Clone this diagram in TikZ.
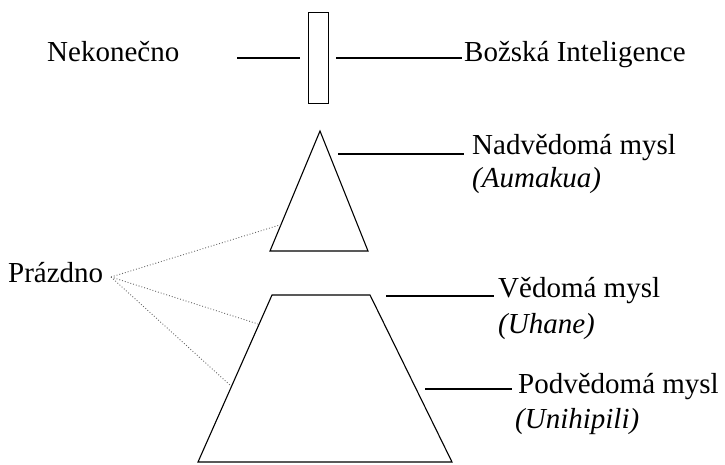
\documentclass[tikz,border=0pt]{standalone}
\usepackage{fontspec}
\setmainfont{Liberation Serif}
\usetikzlibrary{calc}
\begin{document}
\begin{tikzpicture}[x=1pt,y=-1pt,
  lbl/.style={anchor=base west, inner sep=0pt, font=\fontsize{29}{33}\selectfont},
  ital/.style={lbl, font=\fontsize{29}{33}\selectfont\itshape},
  ln/.style={line width=1.1pt, black},
  dots/.style={dotted, line width=0.9pt, black!60}]
\useasboundingbox (0,0) rectangle (725,465);
% bar
\node[draw, line width=1.2pt, minimum width=20pt, minimum height=91pt, inner sep=0pt, anchor=north west] (bar) at (308,12) {};
% triangle
\coordinate (ta) at (320,131);
\coordinate (tl) at (270,251);
\coordinate (tr) at (368,251);
\draw[ln] (ta) -- (tr) -- (tl) -- cycle;
% trapezoid
\coordinate (ptl) at (272,295);
\coordinate (ptr) at (370,295);
\coordinate (pbr) at (452,462);
\coordinate (pbl) at (198,462);
\draw[ln] (ptl) -- (ptr) -- (pbr) -- (pbl) -- cycle;
% labels
\node[lbl] (nek) at (47,62) {Nekonečno};
\node[lbl] (boz) at (464,62) {Božská Inteligence};
\node[lbl] (nad) at (472,155) {Nadvědomá mysl};
\node[ital] (aum) at (472,188) {(Aumakua)};
\node[lbl] (ved) at (498,297) {Vědomá mysl};
\node[ital] (uha) at (498,333) {(Uhane)};
\node[lbl] (pod) at (518,393) {Podvědomá mysl};
\node[ital] (uni) at (515,428) {(Unihipili)};
\node[lbl] (pra) at (8,282) {Prázdno};
% leader lines
\coordinate (l1a) at (237,58); \coordinate (l1b) at (300,58);
\draw[ln] (l1a) -- (l1b);
\coordinate (l2a) at (336,58); \coordinate (l2b) at (462,58);
\draw[ln] (l2a) -- (l2b);
\coordinate (l3a) at (338,154); \coordinate (l3b) at (464,154);
\draw[ln] (l3a) -- (l3b);
\coordinate (l4a) at (386,296); \coordinate (l4b) at (494,296);
\draw[ln] (l4a) -- (l4b);
\coordinate (l5a) at (425,389); \coordinate (l5b) at (512,389);
\draw[ln] (l5a) -- (l5b);
% dotted lines from Prazdno
\coordinate (pr) at (111,277);
\coordinate (d1) at ($(ta)!0.78!(tl)$);
\coordinate (d2) at (258,324);
\coordinate (d3) at (231,386);
\draw[dots] (pr) -- (d1);
\draw[dots] (pr) -- (d2);
\draw[dots] (pr) -- (d3);
\end{tikzpicture}
\end{document}
